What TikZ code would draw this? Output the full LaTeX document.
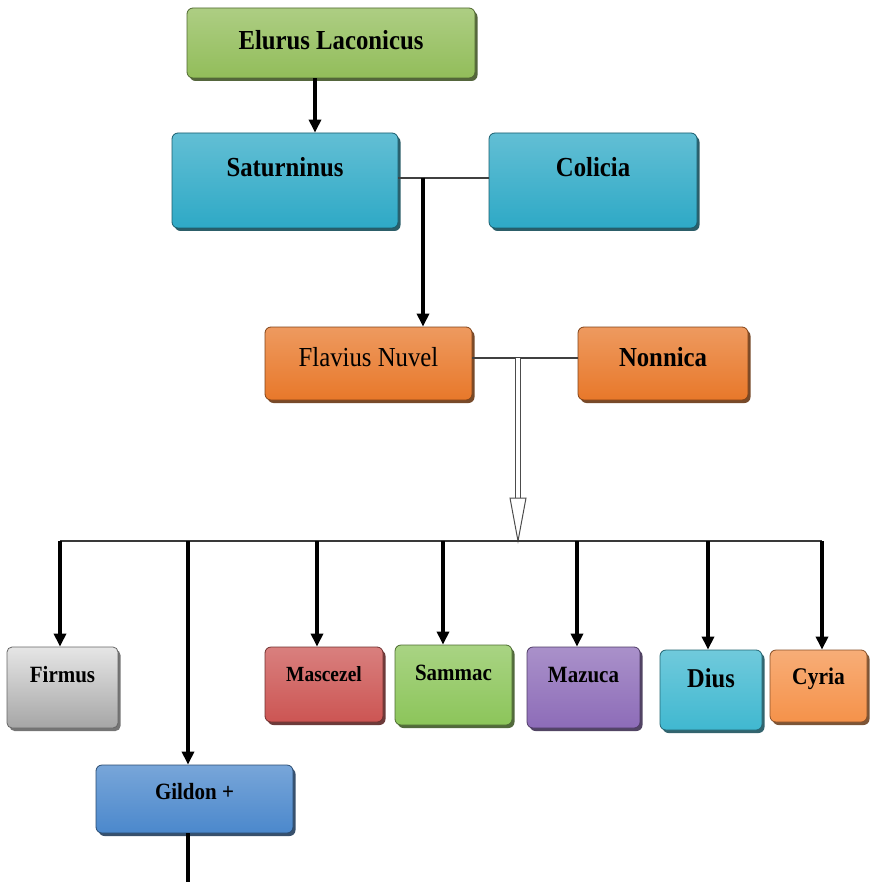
\documentclass[tikz,border=0pt]{standalone}
\usepackage{fontspec}
\setmainfont{Liberation Serif}[FakeStretch=0.9]
\usetikzlibrary{arrows.meta,shadows}
\definecolor{cGreen}{HTML}{92BD5A}
\definecolor{cTeal}{HTML}{2EA9C6}
\definecolor{cOrange}{HTML}{E8782A}
\definecolor{cRed}{HTML}{CC5553}
\definecolor{cLime}{HTML}{8CC55A}
\definecolor{cPurple}{HTML}{8D6CB8}
\definecolor{cCyan}{HTML}{40B8D0}
\definecolor{cApricot}{HTML}{F5924A}
\definecolor{cBlue}{HTML}{4B88CC}
\definecolor{cLine}{HTML}{404040}
\tikzset{
  bx/.style={rectangle, rounded corners=6pt, inner sep=0pt, draw=#1!55!black, line width=0.8pt,
    top color=#1!75!white, bottom color=#1,
    drop shadow={shadow xshift=2.5pt, shadow yshift=-3pt, fill=#1!45!black, opacity=0.9}},
  arr/.style={line width=3.5pt, -{Triangle[width=12pt,length=13pt]}},
  thinln/.style={line width=1.6pt, draw=cLine},
  big/.style={font=\fontsize{27.5}{32}\selectfont\bfseries, text height=19pt},
}
\begin{document}
\begin{tikzpicture}[x=1pt,y=-1pt]
\useasboundingbox (0,0) rectangle (871,882);
% top generations
\node[bx=cGreen, big, minimum width=288pt, minimum height=70pt, text depth=6pt] (elu) at (331,43) {Elurus Laconicus};
\node[bx=cTeal, big, minimum width=226pt, minimum height=95pt, text depth=27pt] (sat) at (285,180.5) {Saturninus};
\node[bx=cTeal, big, minimum width=208pt, minimum height=95pt, text depth=27pt] (col) at (593,180.5) {Colicia};
\node[bx=cOrange, font=\fontsize{27.5}{32}\selectfont, text height=19pt, minimum width=207pt, minimum height=73pt, text depth=13pt] (fla) at (368.5,363.5) {Flavius Nuvel};
\node[bx=cOrange, big, minimum width=170pt, minimum height=73pt, text depth=13pt] (non) at (663,363.5) {Nonnica};
% children
\node[rectangle, rounded corners=5pt, inner sep=0pt, draw=black!60, line width=0.8pt,
  top color=gray!20, bottom color=gray!70,
  drop shadow={shadow xshift=2.5pt, shadow yshift=-3pt, fill=black!60, opacity=0.9},
  font=\fontsize{23.3}{27}\selectfont\bfseries, text height=15.5pt, text depth=25pt,
  minimum width=111pt, minimum height=81pt] (fir) at (62.5,687.5) {Firmus};
\node[bx=cRed, font=\fontsize{21.6}{26}\selectfont\bfseries, text height=14.5pt, text depth=21pt, minimum width=118pt, minimum height=75pt] (mas) at (324,684.5) {Mascezel};
\node[bx=cLime, font=\fontsize{23.3}{27}\selectfont\bfseries, text height=15.5pt, text depth=24pt, minimum width=117pt, minimum height=80pt] (sam) at (453.5,685) {Sammac};
\node[bx=cPurple, font=\fontsize{23.3}{27}\selectfont\bfseries, text height=15.5pt, text depth=25pt, minimum width=113pt, minimum height=81pt] (maz) at (583.5,687.5) {Mazuca};
\node[bx=cCyan, font=\fontsize{27.2}{31}\selectfont\bfseries, text height=18pt, text depth=24pt, minimum width=102pt, minimum height=80pt] (diu) at (711,690) {Dius};
\node[bx=cApricot, font=\fontsize{23.9}{28}\selectfont\bfseries, text height=15.5pt, text depth=18pt, minimum width=97pt, minimum height=72pt] (cyr) at (818.5,686) {Cyria};
\node[bx=cBlue, font=\fontsize{23.3}{27}\selectfont\bfseries, text height=15.5pt, text depth=14pt, minimum width=197pt, minimum height=68pt] (gil) at (194.5,799) {Gildon +};
% coordinates
\coordinate (c1) at (315,0);
\coordinate (j1) at (423,178);
\coordinate (j2) at (518,358);
\coordinate (ah) at (518,498);
\coordinate (busL) at (60,541);
\coordinate (busR) at (822,541);
\coordinate (dG) at (188,541);
\coordinate (dM) at (317,541);
\coordinate (dS) at (443,541);
\coordinate (dZ) at (577,541);
\coordinate (dD) at (708,541);
\coordinate (gend) at (188,882);
% connectors
\draw[arr] (elu.south -| c1) -- (sat.north -| c1);
\draw[thinln] (sat.east |- j1) -- (col.west |- j1);
\draw[arr] (j1) -- (fla.north -| j1);
\draw[thinln] (fla.east |- j2) -- (non.west |- j2);
\draw[line width=1.2pt, draw=gray!60!black, double=white, double distance=4pt] (j2) -- (ah);
\draw[line width=1pt, draw=gray!60!black, fill=white] ([xshift=-8pt]ah) -- ([xshift=8pt]ah) -- (ah |- busL) -- cycle;
\draw[line width=2.2pt, draw=gray!45!black] (busL) -- (busR);
\draw[arr] (busL) -- (fir.north -| busL);
\draw[arr] (dG) -- (gil.north -| dG);
\draw[arr] (dM) -- (mas.north -| dM);
\draw[arr] (dS) -- (sam.north -| dS);
\draw[arr] (dZ) -- (maz.north -| dZ);
\draw[arr] (dD) -- (diu.north -| dD);
\draw[arr] (busR) -- (cyr.north -| busR);
\draw[line width=3.5pt] (gil.south -| gend) -- (gend);
\end{tikzpicture}
\end{document}
